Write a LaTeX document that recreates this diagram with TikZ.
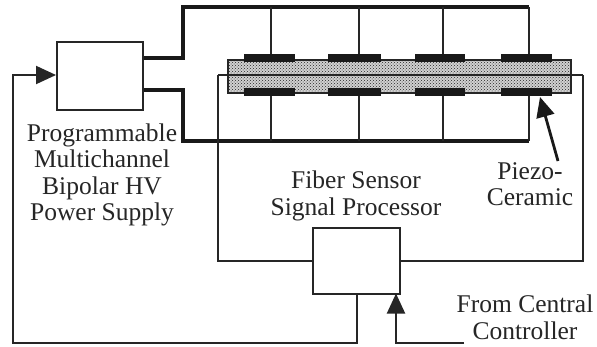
\documentclass[tikz,border=0pt]{standalone}
\usepackage{fontspec}
\setmainfont{Liberation Serif}
\usepackage{tikz}
\usetikzlibrary{arrows.meta,patterns}

\begin{document}
\begin{tikzpicture}[x=1pt,y=-1pt,
		thin wire/.style={line width=2pt,line join=miter,draw=black!85},
		thick wire/.style={line width=4pt,line join=miter,draw=black!90},
		block/.style={draw=black!85,line width=2pt,fill=white,inner sep=0pt},
		electrode/.style={fill=black!90,inner sep=0pt,minimum height=8.5pt},
		label/.style={align=center,inner sep=0pt,text=black!85,font=\fontsize{25.5}{26.5}\selectfont},
		head/.style={-{Triangle[length=20pt,width=18pt]}}]
		\useasboundingbox (0,0) rectangle (597,346);
		\fill[white] (0,0) rectangle (597,346);
		% plate
		\node[draw=black!85,line width=1.8pt,inner sep=0pt,minimum width=343pt,minimum height=33pt,
			fill=black!18,postaction={pattern=crosshatch dots,pattern color=black!85}] (plate) at (399.5,76.5) {};
		% electrodes, upper and lower
		\foreach \name/\x/\w in {a/269.5/51,b/354.5/53,c/440/50,d/526.5/51} {
			\node[electrode,minimum width=\w pt] (up\name) at (\x,58) {};
			\node[electrode,minimum width=\w pt] (lo\name) at (\x,92) {};
		}
		\node[block,minimum width=86pt,minimum height=68pt] (supply) at (100,76) {};
		\node[block,minimum width=87pt,minimum height=66pt] (processor) at (356.5,260.5) {};
		% bus lines
		\coordinate (topbus) at (183,7);
		\coordinate (botbus) at (183,141);
		\draw[thick wire] (supply.east |- 0,58) -| (topbus) -- (529,7);
		\draw[thick wire] (supply.east |- 0,90) -| (botbus) -- (529,141);
		\foreach \name/\x in {a/271,b/358.5,c/442.5,d/529} {
			\draw[thin wire] (\x,7) -- (up\name.north -| \x,0);
			\draw[thin wire] (\x,141) -- (lo\name.south -| \x,0);
		}
		% sensor fibre
		\coordinate (fiberl) at (218,75);
		\coordinate (fiberr) at (582.5,75);
		\draw[thin wire] (fiberl) -- (fiberr);
		\draw[thin wire] (fiberl) |- (processor.west);
		\draw[thin wire] (fiberr) |- (processor.east);
		% feedback to the supply
		\coordinate (corner) at (13,343);
		\draw[thin wire,head] (processor.south |- 0,293.5) -- (processor.south |- corner) -- (corner) -- (13,75) -- (supply.west |- 0,75);
		\coordinate (central) at (464,343);
		\draw[thin wire,head] (central) -| (396,293.5);
		\node[label] (supplytext) at (102,175) {Programmable\\Multichannel\\Bipolar HV\\Power Supply};
		\node[label] (processortext) at (356,196) {Fiber Sensor\\Signal Processor};
		\node[label] (piezotext) at (530,184) {Piezo-\\Ceramic};
		\node[label] (centraltext) at (525,317.5) {From Central\\Controller};
		\draw[line width=2.8pt,draw=black!90,head] (558,161) -- (540,97);
	\end{tikzpicture}
\end{document}
